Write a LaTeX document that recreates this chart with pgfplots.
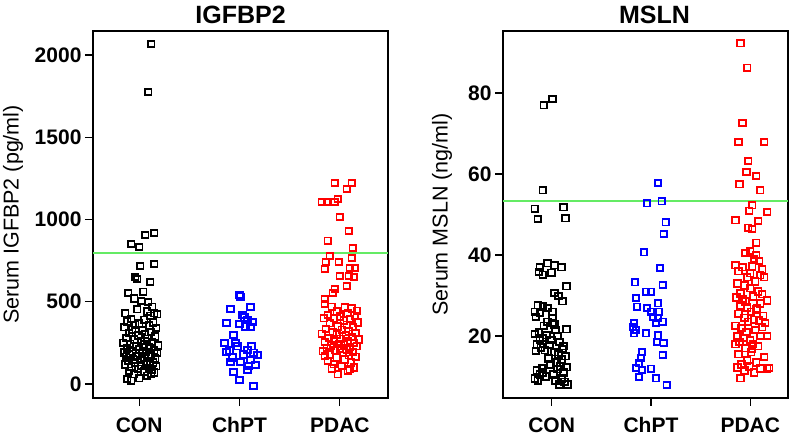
\documentclass[border=0pt]{standalone}
\usepackage{fontspec}
\setmainfont{Liberation Sans}
\usepackage{pgfplots}
\pgfplotsset{compat=1.18}
\definecolor{lgreen}{RGB}{100,235,100}
\definecolor{myblue}{RGB}{0,0,255}
\definecolor{myred}{RGB}{255,0,0}
\pgfplotsset{
  panel/.style={
    scale only axis, height=367pt,
    axis line style={line width=1.6pt},
    tick align=outside, xtick pos=bottom, ytick pos=left,
    major tick length=8pt,
    tick style={line width=1.3pt, black},
    xtick={0,1,2}, xticklabels={CON,ChPT,PDAC},
    /pgf/number format/assume math mode=true,
    ticklabel style={font=\fontsize{21}{21}\selectfont\bfseries},
    xticklabel style={yshift=-8pt},
    title style={font=\fontsize{25}{25}\selectfont\bfseries, at={(axis description cs:0.5,1)}, anchor=center, yshift=10pt},
    scaled y ticks=false,
    yticklabel style={/pgf/number format/.cd, 1000 sep={}},
  },
  pts/.style={only marks, mark=square, mark size=3.3pt, line width=1.8pt},
}
\begin{document}
\begin{tikzpicture}
\useasboundingbox (0,0) rectangle (800pt,436pt);
% ---------------- Left panel ----------------
\begin{axis}[panel, at={(93pt,38pt)}, anchor=south west, width=295pt,
  xmin=-0.46, xmax=2.48, ymin=-85, ymax=2146,
  ytick={0,500,1000,1500,2000},
  title={IGFBP2},
  ylabel={Serum IGFBP2 (pg/ml)},
  every axis y label/.style={at={(axis description cs:0,0.5)}, xshift=-80pt, rotate=90, anchor=center, font=\fontsize{21.5}{21.5}\selectfont},
]
\addplot[lgreen, line width=2.2pt] coordinates {(-0.46,795) (2.48,795)};
\addplot[pts, black] coordinates {
(0.12,2067)(0.09,1775)(0.06,906)(0.15,918)(-0.08,851)(0.00,833)(0.01,717)(0.15,730)(-0.04,650)(-0.02,638)(0.11,620)
(-0.11,553)(0.04,560)(-0.05,520)(0.02,505)(0.09,498)(0.13,470)(-0.14,430)(0.15,430)(0.08,440)(0.18,425)(-0.02,455)(0.11,415)
(-0.08,395)(0.05,390)(-0.12,380)(0.14,375)(0.00,370)(-0.04,360)(0.10,355)(0.17,340)(-0.15,345)(-0.07,330)(0.03,325)(0.12,318)
(-0.10,310)(0.06,300)(-0.01,295)(0.16,290)(-0.13,280)(0.08,275)(-0.05,270)(0.02,262)(0.13,255)(-0.16,250)(-0.09,245)(0.05,240)
(0.19,235)(-0.03,228)(0.10,222)(-0.12,215)(0.00,210)(0.15,205)(-0.07,200)(0.07,195)(-0.15,192)(0.18,188)(0.03,185)(-0.10,180)
(0.12,176)(-0.02,172)(0.09,168)(-0.13,165)(0.05,160)(0.16,155)(-0.06,150)(0.01,146)(-0.11,142)(0.11,138)(0.14,130)(-0.04,128)
(0.07,122)(-0.14,118)(0.02,112)(0.17,108)(-0.08,105)(0.10,98)(-0.01,92)(0.13,85)(-0.10,80)(0.05,75)(0.15,70)(-0.05,60)(0.08,50)
(-0.12,30)(-0.08,20)(0.00,35)(0.12,65)
};
\addplot[pts, myblue] coordinates {
(1.00,541)(1.01,530)(0.91,456)(1.11,468)(0.87,371)(1.03,420)(1.08,389)(1.13,377)(1.00,365)(1.11,347)(0.94,298)(0.85,249)
(0.96,249)(0.87,195)(1.08,207)(1.18,176)(0.91,134)(1.01,134)(1.11,146)(1.16,116)(1.08,85)(0.94,73)(1.00,24)(1.14,-12)
(1.06,350)(0.98,230)(1.04,180)(0.93,160)(1.09,110)(1.14,190)(1.05,405)(0.90,205)(1.12,230)
};
\addplot[pts, myred] coordinates {
(1.95,1222)(2.12,1222)(2.07,1186)(1.82,1106)(1.87,1106)(1.95,1106)(1.98,1125)(2.00,1015)(2.09,930)(1.88,870)(2.13,827)
(1.90,778)(2.12,766)(1.86,742)(1.99,742)(1.85,699)(2.10,705)(2.15,705)(2.00,657)(2.09,657)(2.14,651)(2.07,596)(1.95,578)
(1.93,553)(1.85,517)
(1.85,486)(1.92,470)(2.05,465)(2.12,460)(2.17,445)(1.97,440)(2.08,430)(1.88,420)(2.15,415)(2.00,410)(1.94,400)(2.10,395)
(1.84,400)(2.04,385)(2.18,375)(1.90,370)(2.07,360)(1.98,350)(2.13,345)(1.86,335)(2.02,330)(2.09,320)(1.93,315)(2.16,310)
(1.82,305)(1.97,300)(2.06,295)(2.12,285)(1.89,280)(2.01,275)(2.19,270)(1.94,265)(2.08,260)(1.85,255)(2.14,250)(1.99,245)
(2.04,240)(1.91,235)(2.17,230)(2.10,225)(1.87,220)(2.00,215)(2.07,210)(1.95,205)(1.83,200)(2.13,195)(2.03,190)(1.90,180)
(2.09,175)(1.85,170)(2.16,165)(1.97,160)(2.05,150)(1.88,140)(2.11,130)(1.94,120)(2.02,110)(2.14,100)(1.92,95)(2.08,80)
(1.98,60)(2.10,90)
};
\end{axis}
% ---------------- Right panel ----------------
\begin{axis}[panel, at={(503pt,38pt)}, anchor=south west, width=285pt,
  xmin=-0.49, xmax=2.38, ymin=4.7, ymax=95.3,
  ytick={20,40,60,80},
  title={MSLN}, title style={xshift=9pt},
  ylabel={Serum MSLN (ng/ml)},
  every axis y label/.style={at={(axis description cs:0,0.5)}, xshift=-61pt, rotate=90, anchor=center, font=\fontsize{21.5}{21.5}\selectfont},
]
\addplot[lgreen, line width=2.2pt] coordinates {(-0.49,53.3) (2.38,53.3)};
\addplot[pts, black] coordinates {
(-0.08,77.0)(0.01,78.5)(-0.09,56.0)(-0.17,51.4)(-0.14,48.9)(0.12,51.8)(0.14,49.1)(-0.12,37.0)(-0.04,38.0)(0.03,37.5)(0.10,37.0)
(-0.13,35.8)(0.00,35.6)(-0.09,35.1)(0.15,32.3)(0.03,30.6)(0.07,29.9)(0.11,28.6)(-0.14,27.6)(-0.09,27.4)(-0.04,26.9)(-0.17,26.0)
(-0.12,25.7)(0.01,26.0)(-0.16,24.7)(0.01,24.4)(0.01,23.2)(0.15,21.7)
(-0.17,20.5)(-0.13,21.0)(-0.09,19.5)(-0.05,20.2)(0.00,19.0)(0.04,21.5)(0.08,18.5)(0.12,17.5)(-0.15,18.0)(-0.11,17.2)
(-0.07,16.5)(-0.02,17.8)(0.03,16.0)(0.07,15.5)(0.11,16.8)(0.14,15.0)(-0.12,19.0)(-0.04,23.5)(0.03,22.8)(-0.08,22.5)
(0.06,20.0)(-0.16,16.3)(0.10,14.2)(-0.03,14.5)(0.05,13.5)(0.09,12.5)(-0.15,11.5)(-0.12,10.5)(-0.09,11.0)(-0.17,9.5)
(-0.14,9.0)(-0.06,10.0)(0.06,11.8)(0.10,9.5)(0.13,8.7)(0.16,8.0)(0.08,8.0)(0.02,10.5)(-0.10,12.0)(0.12,11.0)(0.04,9.0)
(-0.01,13.0)(0.15,12.3)
};
\addplot[pts, myblue] coordinates {
(1.07,57.8)(0.96,52.8)(1.11,53.3)(1.15,48.1)(1.13,45.2)(0.93,40.7)(1.09,36.8)(0.84,33.3)(1.12,32.6)(0.95,30.9)(1.00,30.9)
(0.85,29.4)(0.86,27.2)(1.07,28.1)(0.96,26.9)(1.00,26.0)(1.08,26.0)(1.02,24.7)(1.07,24.4)(1.12,23.5)(1.05,23.2)(0.83,23.2)
(0.82,22.2)(0.85,21.5)(0.83,20.7)(0.95,20.7)(1.07,20.2)(1.06,18.5)(1.13,18.3)(1.12,15.3)(0.91,16.0)(0.90,14.6)(0.88,13.3)
(0.85,12.1)(0.91,11.6)(1.00,11.9)(0.88,9.9)(1.05,9.6)(1.16,7.9)
};
\addplot[pts, myred] coordinates {
(1.90,92.3)(1.97,86.2)(1.92,72.6)(1.88,67.9)(2.14,67.9)(1.98,63.2)(1.96,60.5)(2.06,59.5)(1.89,57.5)(2.10,56.0)(2.02,52.3)
(1.99,50.9)(2.17,50.6)(1.85,48.6)(2.08,48.4)(1.98,46.7)(2.02,46.4)(2.06,43.0)
(2.00,41.0)(1.95,40.5)(2.06,40.0)(2.04,39.0)(2.09,38.5)(1.85,37.5)(1.92,37.0)(2.02,37.2)(1.88,36.0)(2.10,35.0)(1.97,34.5)
(2.14,34.5)(2.05,33.5)(1.87,33.0)(1.94,32.5)(2.00,31.8)(2.08,31.0)(1.90,30.5)(2.12,30.3)(2.03,29.8)(1.86,29.5)(2.17,28.8)
(2.10,28.0)(1.95,28.5)(1.90,27.5)(1.97,27.0)(2.06,26.5)(2.01,26.0)(1.88,25.5)(2.13,25.0)(1.94,24.5)(2.04,24.0)(2.09,23.8)
(1.98,23.5)(2.15,23.2)(1.85,22.5)(2.12,22.2)(1.91,22.0)(2.05,21.5)(1.96,21.0)(2.17,20.0)(2.10,20.0)(1.87,20.0)(1.93,19.5)
(2.00,19.0)(1.89,18.5)(2.03,18.0)(1.85,18.0)(1.95,17.0)(2.08,17.5)(2.01,16.0)(1.88,15.5)(2.14,14.8)(1.97,14.0)(1.91,13.0)
(2.06,13.5)(1.87,12.2)(1.99,12.5)(2.10,12.0)(2.17,12.0)(2.19,12.1)(1.94,11.5)(2.04,11.0)(1.90,9.6)(2.02,16.8)(2.07,26.8)
(1.92,29.0)(2.12,36.5)(2.00,35.5)
};
\end{axis}
\end{tikzpicture}
\end{document}
